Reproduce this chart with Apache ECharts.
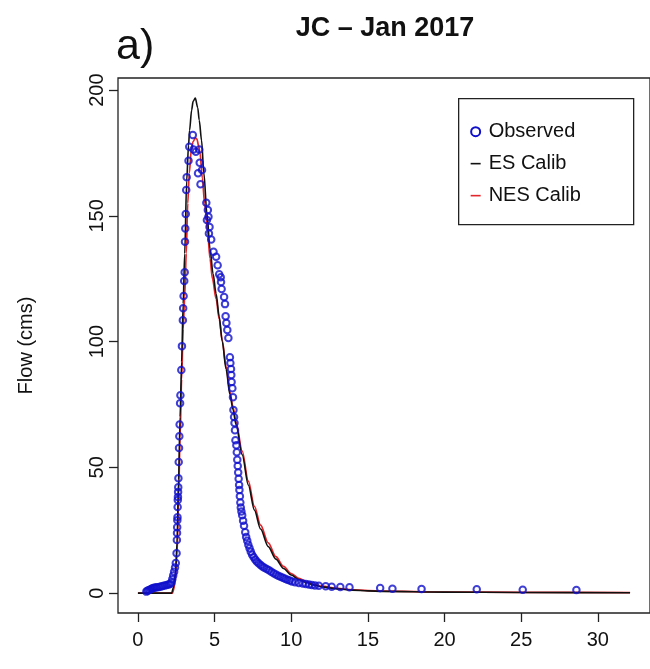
<!DOCTYPE html>
<html>
<head>
<meta charset="utf-8">
<script src="https://cdn.jsdelivr.net/npm/echarts@6/dist/echarts.min.js"></script>
<style>
  html, body { margin: 0; padding: 0; background: #fff; }
  #chart { width: 650px; height: 669px; }
</style>
</head>
<body>
<div id="chart"></div>
<script>
// Observed streamflow (time in days, flow in cms)
const obsTime = [
  0.55, 0.62, 0.70, 0.78, 0.86, 0.95, 1.05, 1.15, 1.25, 1.38, 1.50, 1.62, 1.75, 1.88, 2.00, 2.10, 2.18, 2.24, 2.30, 2.36, 2.42, 2.47,
  2.52, 2.54, 2.55, 2.56, 2.57, 2.58, 2.59, 2.60, 2.61, 2.62, 2.63, 2.64, 2.66, 2.68, 2.70, 2.72, 2.75, 2.77, 2.83, 2.87, 2.93, 2.95, 2.98, 3.02, 3.05,
  3.07, 3.09, 3.12, 3.15, 3.18, 3.30, 3.35, 3.58, 3.62, 3.78, 3.92, 4.00, 4.03, 4.08, 4.18,
  4.46, 4.50, 4.56, 4.60, 4.63, 4.67, 4.78, 4.93, 5.10, 5.20, 5.30, 5.40, 5.42, 5.46, 5.62, 5.68, 5.72, 5.77, 5.83, 5.90,
  6.00, 6.03, 6.07, 6.09, 6.11, 6.16, 6.20, 6.23, 6.27, 6.30, 6.33, 6.36, 6.42, 6.45, 6.48, 6.51, 6.54, 6.57, 6.60, 6.62, 6.65, 6.68, 6.71, 6.75,
  6.80, 6.86, 6.92, 7.00, 7.06, 7.13, 7.20, 7.28, 7.36, 7.45, 7.55, 7.65, 7.75, 7.87, 8.00, 8.12, 8.25, 8.40, 8.55, 8.70, 8.85, 9.00, 9.15, 9.30, 9.45, 9.60, 9.75, 9.90,
  10.05, 10.25, 10.50, 10.75, 10.95, 11.15, 11.34, 11.55, 11.80, 12.25, 12.64, 13.20, 13.80, 15.80, 16.60, 18.50, 22.10, 25.10, 28.60
];
const obsFlow = [
  0.6, 0.9, 1.1, 1.3, 1.6, 1.9, 2.1, 2.2, 2.3, 2.4, 2.6, 2.8, 3.0, 3.2, 3.4, 3.6, 4.2, 5.5, 7.0, 8.5, 10.2, 12.0,
  15.9, 21.1, 23.9, 26.2, 29.0, 30.2, 34.2, 37.0, 38.2, 40.2, 42.1, 45.7, 52.1, 57.7, 62.4, 67.0, 75.5, 78.7, 88.7, 98.2, 108.5, 113.3, 118.1, 124.1, 127.6,
  139.7, 145.0, 150.7, 160.3, 165.3, 171.9, 177.5, 182.1, 176.4, 175.5, 166.9, 176.4, 171.1, 162.6, 168.2,
  155.2, 148.3, 152.3, 149.6, 143.0, 145.6, 140.6, 135.7, 133.7, 130.4, 126.8, 125.6, 123.7, 120.9, 117.7, 114.9, 110.1, 107.4, 104.6, 101.4,
  93.8, 91.5, 89.1, 86.7, 83.9, 81.5, 77.9, 72.8, 70.0, 67.6, 64.8, 60.8, 58.8, 56.0, 53.0, 50.5, 48.0, 45.5, 43.0, 41.0, 38.5, 36.0, 34.0, 32.5,
  31.0, 28.8, 26.8, 24.2, 22.3, 20.8, 19.2, 17.8, 16.5, 15.3, 14.3, 13.4, 12.6, 11.9, 11.2, 10.6, 10.1, 9.6, 9.1, 8.5, 7.9, 7.4, 6.9, 6.5, 6.1, 5.7, 5.3, 5.0,
  4.6, 4.3, 4.0, 3.8, 3.6, 3.4, 3.2, 3.0, 2.9, 2.7, 2.5, 2.4, 2.3, 2.0, 1.7, 1.6, 1.5, 1.3, 1.2
];

// ES calibration simulated hydrograph
const esTime = [0, 2.20, 2.30, 2.45, 2.55, 2.65, 2.75, 2.85, 2.95, 3.05, 3.18, 3.30, 3.37, 3.50, 3.60, 3.74, 3.90, 4.00, 4.15, 4.30, 4.50, 4.70, 4.90, 5.10, 5.30, 5.50, 5.75, 6.00, 6.20, 6.40, 6.80, 7.20, 7.60, 8.00, 8.50, 9.00, 9.50, 10.0, 10.5, 11.0, 11.5, 12.0, 13.0, 14.0, 15.0, 16.0, 20.0, 25.0, 32.1];
const esFlow = [0, 0, 2, 8, 20, 45, 70, 92, 115, 135, 164, 178, 184, 192, 195.5, 196.8, 193, 188, 180, 167, 151, 137, 127, 119, 110, 100, 89, 79, 73, 67, 55, 43, 33, 25.5, 18.5, 13.5, 9.8, 7.2, 5.4, 4.1, 3.2, 2.5, 1.7, 1.2, 0.9, 0.7, 0.4, 0.25, 0.15];

// NES calibration simulated hydrograph
const nesTime = [0, 2.25, 2.40, 2.55, 2.65, 2.75, 2.85, 2.95, 3.05, 3.15, 3.25, 3.35, 3.48, 3.60, 3.75, 3.85, 3.95, 4.05, 4.20, 4.35, 4.54, 4.70, 4.86, 5.10, 5.30, 5.50, 5.75, 6.00, 6.20, 6.40, 6.80, 7.20, 7.60, 8.00, 8.50, 9.00, 9.50, 10.0, 10.5, 11.0, 11.5, 12.0, 13.0, 14.0, 15.0, 16.0, 20.0, 25.0, 32.1];
const nesFlow = [0, 0, 3, 15, 38, 62, 85, 105, 118, 135, 155, 167, 176, 179.5, 181, 180.5, 178, 175, 165, 155, 144, 133, 125, 117, 109, 100.5, 90, 80, 74, 68, 56.5, 44.5, 34.5, 27, 20, 14.5, 10.6, 7.8, 5.9, 4.5, 3.5, 2.8, 1.9, 1.35, 1.0, 0.8, 0.45, 0.3, 0.2];

// Axis tick positions
const xTicks = [0, 5, 10, 15, 20, 25, 30];
const yTicks = [0, 50, 100, 150, 200];

const zip = (a, b) => a.map((v, i) => [v, b[i]]);

const FONT = "'Liberation Sans', Arial, Helvetica, sans-serif";
const chart = echarts.init(document.getElementById('chart'), null, { renderer: 'canvas' });

chart.setOption({
  animation: false,
  backgroundColor: '#ffffff',
  grid: {
    left: 118, top: 78, width: 535, height: 535,
    show: true, borderColor: '#222', borderWidth: 1.3, backgroundColor: 'transparent'
  },
  xAxis: {
    type: 'value', min: -1.3, max: 33.4,
    axisLine: { show: false, onZero: false },
    splitLine: { show: false },
    axisTick: { show: true, customValues: xTicks, length: 9, inside: false, lineStyle: { color: '#222', width: 1.3 } },
    axisLabel: { customValues: xTicks, fontFamily: FONT, fontSize: 20, color: '#111', margin: 17 }
  },
  yAxis: {
    type: 'value', min: -7.9, max: 204.8,
    name: 'Flow (cms)', nameLocation: 'middle', nameGap: 82, nameRotate: 90,
    nameTextStyle: { fontFamily: FONT, fontSize: 20, color: '#111' },
    axisLine: { show: false, onZero: false },
    splitLine: { show: false },
    axisTick: { show: true, customValues: yTicks, length: 9, lineStyle: { color: '#222', width: 1.3 } },
    axisLabel: {
      customValues: yTicks, rotate: 90, align: 'center', verticalAlign: 'bottom',
      fontFamily: FONT, fontSize: 20, color: '#111', margin: 11
    }
  },
  series: [
    {
      name: 'NES Calib', type: 'line', data: zip(nesTime, nesFlow),
      showSymbol: false, smooth: 0.3, smoothMonotone: 'x',
      lineStyle: { color: '#e3262b', width: 1.7 }, z: 2
    },
    {
      name: 'ES Calib', type: 'line', data: zip(esTime, esFlow),
      showSymbol: false, smooth: 0.3, smoothMonotone: 'x',
      lineStyle: { color: '#111', width: 1.6 }, z: 3
    },
    {
      name: 'Observed', type: 'scatter', data: zip(obsTime, obsFlow),
      symbol: 'circle', symbolSize: 6.5,
      itemStyle: { color: 'rgba(0,0,0,0)', borderColor: '#0f0fcc', borderWidth: 2 }, z: 4
    }
  ],
  graphic: [
    {
      type: 'text', x: 385, y: 15,
      style: { text: 'JC \u2013 Jan 2017', font: "bold 27px " + FONT, fill: '#111', textAlign: 'center' }
    },
    {
      type: 'text', x: 116, y: 26,
      style: { text: 'a)', font: "43px " + FONT, fill: '#111' }
    },
    {
      type: 'group', left: 458, top: 98,
      children: [
        { type: 'rect', shape: { x: 0, y: 0, width: 175, height: 126 }, style: { fill: '#fff', stroke: '#222', lineWidth: 1.3 } },
        { type: 'circle', shape: { cx: 17, cy: 33, r: 4.5 }, style: { fill: 'none', stroke: '#0f0fcc', lineWidth: 2 } },
        { type: 'text', x: 30, y: 23, style: { text: 'Observed', font: "20px " + FONT, fill: '#111' } },
        { type: 'line', shape: { x1: 12, y1: 65, x2: 22, y2: 65 }, style: { stroke: '#111', lineWidth: 1.6 } },
        { type: 'text', x: 30, y: 55, style: { text: 'ES Calib', font: "20px " + FONT, fill: '#111' } },
        { type: 'line', shape: { x1: 12, y1: 97, x2: 22, y2: 97 }, style: { stroke: '#e3262b', lineWidth: 1.6 } },
        { type: 'text', x: 30, y: 87, style: { text: 'NES Calib', font: "20px " + FONT, fill: '#111' } }
      ]
    }
  ]
});
</script>
</body>
</html>
